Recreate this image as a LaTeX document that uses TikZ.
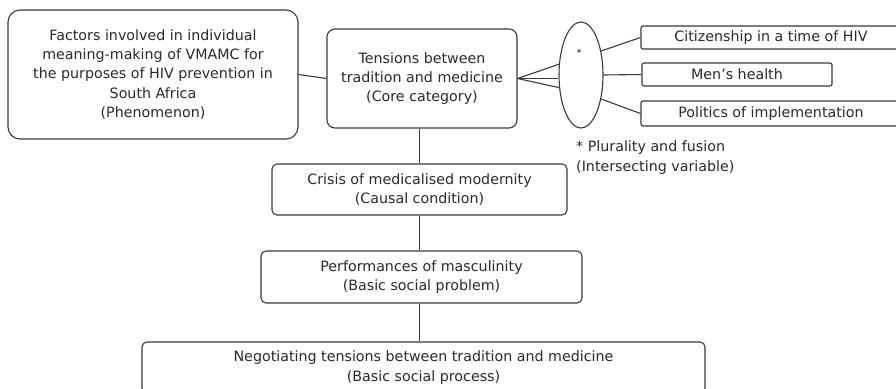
\documentclass[tikz,border=0pt]{standalone}
\usepackage{fontspec}
\setmainfont{DejaVu Sans}
\usetikzlibrary{shapes.geometric}
\definecolor{ink}{HTML}{2A2A2A}
\definecolor{rule}{HTML}{3A3A3A}
\begin{document}
\begin{tikzpicture}[x=1pt,y=-1pt,
  every node/.style={text=ink,font=\fontsize{14.25}{19.2}\selectfont,inner sep=0pt},
  box/.style={draw=rule,line width=1.1pt,rectangle,align=center},
  link/.style={draw=rule,line width=1.1pt}]
\useasboundingbox (0,0) rectangle (896,388);
\clip (0,0) rectangle (896,388);
\fill[white] (0,0) rectangle (896,388);

% main chain
\node[box,rounded corners=12pt,minimum width=290pt,minimum height=129pt] (phen) at (153,74.5)
  {Factors involved in individual\\meaning-making of VMAMC for\\the purposes of HIV prevention in\\South Africa\\(Phenomenon)};
\node[box,rounded corners=8pt,minimum width=190pt,minimum height=99pt] (core) at (422,78.5)
  {Tensions between\\tradition and medicine\\(Core category)};
\node[box,rounded corners=5pt,minimum width=295pt,minimum height=51pt] (crisis) at (419.5,189.5)
  {Crisis of medicalised modernity\\(Causal condition)};
\node[box,rounded corners=5pt,minimum width=321pt,minimum height=52pt] (perf) at (421.5,277)
  {Performances of masculinity\\(Basic social problem)};
\node[box,rounded corners=5pt,minimum width=563pt,minimum height=51pt] (neg) at (423.5,367.5)
  {Negotiating tensions between tradition and medicine\\(Basic social process)};

% intersecting variable and its categories
\node[draw=rule,line width=1.1pt,ellipse,minimum width=44pt,minimum height=106pt] (ell) at (581,75) {};
\node[font=\fontsize{10}{12}\selectfont] (star) at (579,53) {*};
\node[box,rounded corners=2pt,minimum width=260pt,minimum height=23pt] (cit) at (771,37.5) {Citizenship in a time of HIV};
\node[box,rounded corners=2pt,minimum width=190pt,minimum height=23pt] (men) at (737,74.5) {Men’s health};
\node[box,rounded corners=2pt,minimum width=260pt,minimum height=25pt] (pol) at (771,113.5) {Politics of implementation};
\node[anchor=west,align=left] (note) at (576,157.5) {* Plurality and fusion\\(Intersecting variable)};

% connectors
\draw[link] (phen.east) -- (core.west);
\draw[link] (core.east) -- (ell.154);
\draw[link] (core.east) -- (core.east -| ell.west);
\draw[link] (core.east) -- (ell.210);
\draw[link] (ell.50) -- (cit.west);
\draw[link] (ell.east) -- (men.west);
\draw[link] (ell.-50) -- (pol.west);
\draw[link] (crisis.north) -- (crisis.north |- core.south);
\draw[link] (crisis.south) -- (crisis.south |- perf.north);
\draw[link] (crisis.south |- perf.south) -- (crisis.south |- neg.north);
\end{tikzpicture}
\end{document}
